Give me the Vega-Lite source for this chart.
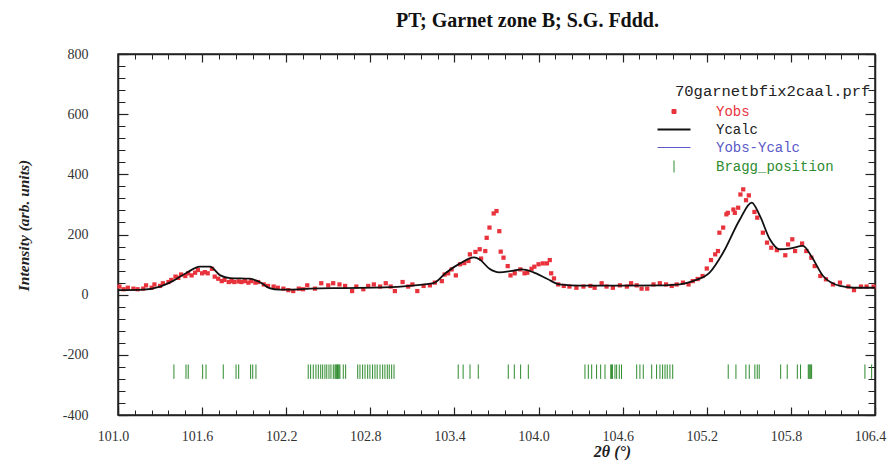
{
  "$schema": "https://vega.github.io/schema/vega-lite/v6.json",
  "width": 757,
  "height": 361,
  "autosize": {"type": "none"},
  "padding": {"left": 118, "top": 54, "right": 16, "bottom": 45},
  "background": "white",
  "title": {"text": "PT; Garnet zone B; S.G. Fddd.", "font": "Liberation Serif", "fontSize": 20, "fontWeight": "bold", "color": "#111", "anchor": "middle", "dx": 31, "offset": 16},
  "config": {"view": {"stroke": "#222", "strokeWidth": 1.5}},
  "datasets": {
    "obs": [
      {"x": 101.01, "y": 27}, {"x": 101.04, "y": 18}, {"x": 101.07, "y": 23}, {"x": 101.11, "y": 20}, {"x": 101.14, "y": 18},
      {"x": 101.18, "y": 20}, {"x": 101.2, "y": 31}, {"x": 101.24, "y": 23}, {"x": 101.26, "y": 34}, {"x": 101.3, "y": 29},
      {"x": 101.32, "y": 38}, {"x": 101.36, "y": 42}, {"x": 101.38, "y": 49}, {"x": 101.41, "y": 60}, {"x": 101.43, "y": 56},
      {"x": 101.45, "y": 67}, {"x": 101.48, "y": 62}, {"x": 101.5, "y": 71}, {"x": 101.525, "y": 64}, {"x": 101.55, "y": 73},
      {"x": 101.57, "y": 82}, {"x": 101.6, "y": 71}, {"x": 101.62, "y": 75}, {"x": 101.64, "y": 71}, {"x": 101.67, "y": 86},
      {"x": 101.69, "y": 60}, {"x": 101.715, "y": 53}, {"x": 101.74, "y": 45}, {"x": 101.76, "y": 49}, {"x": 101.79, "y": 42},
      {"x": 101.81, "y": 45}, {"x": 101.83, "y": 42}, {"x": 101.86, "y": 44}, {"x": 101.88, "y": 42}, {"x": 101.905, "y": 45},
      {"x": 101.93, "y": 40}, {"x": 101.95, "y": 45}, {"x": 101.98, "y": 40}, {"x": 102.0, "y": 42}, {"x": 102.04, "y": 34},
      {"x": 102.07, "y": 29}, {"x": 102.11, "y": 27}, {"x": 102.14, "y": 23}, {"x": 102.18, "y": 20}, {"x": 102.215, "y": 15},
      {"x": 102.25, "y": 12}, {"x": 102.29, "y": 20}, {"x": 102.32, "y": 18}, {"x": 102.35, "y": 31}, {"x": 102.405, "y": 20},
      {"x": 102.45, "y": 38}, {"x": 102.5, "y": 31}, {"x": 102.535, "y": 38}, {"x": 102.58, "y": 34}, {"x": 102.62, "y": 29},
      {"x": 102.67, "y": 12}, {"x": 102.7, "y": 27}, {"x": 102.75, "y": 18}, {"x": 102.785, "y": 29}, {"x": 102.825, "y": 34},
      {"x": 102.87, "y": 27}, {"x": 102.91, "y": 38}, {"x": 102.945, "y": 27}, {"x": 102.975, "y": 12}, {"x": 103.03, "y": 42},
      {"x": 103.07, "y": 27}, {"x": 103.1, "y": 34}, {"x": 103.135, "y": 12}, {"x": 103.18, "y": 29}, {"x": 103.225, "y": 31},
      {"x": 103.26, "y": 40}, {"x": 103.31, "y": 45}, {"x": 103.33, "y": 67}, {"x": 103.355, "y": 71}, {"x": 103.38, "y": 84},
      {"x": 103.41, "y": 64}, {"x": 103.44, "y": 101}, {"x": 103.47, "y": 105}, {"x": 103.5, "y": 112}, {"x": 103.51, "y": 134},
      {"x": 103.55, "y": 142}, {"x": 103.58, "y": 151}, {"x": 103.59, "y": 120}, {"x": 103.62, "y": 145}, {"x": 103.63, "y": 189},
      {"x": 103.65, "y": 223}, {"x": 103.68, "y": 270}, {"x": 103.7, "y": 278}, {"x": 103.72, "y": 211}, {"x": 103.73, "y": 143},
      {"x": 103.75, "y": 123}, {"x": 103.78, "y": 95}, {"x": 103.8, "y": 64}, {"x": 103.83, "y": 71}, {"x": 103.87, "y": 84},
      {"x": 103.9, "y": 71}, {"x": 103.92, "y": 73}, {"x": 103.95, "y": 86}, {"x": 103.97, "y": 93}, {"x": 104.0, "y": 101},
      {"x": 104.03, "y": 104}, {"x": 104.06, "y": 104}, {"x": 104.08, "y": 115}, {"x": 104.09, "y": 71}, {"x": 104.11, "y": 54},
      {"x": 104.14, "y": 34}, {"x": 104.18, "y": 29}, {"x": 104.22, "y": 27}, {"x": 104.27, "y": 23}, {"x": 104.32, "y": 27},
      {"x": 104.37, "y": 29}, {"x": 104.4, "y": 23}, {"x": 104.45, "y": 38}, {"x": 104.485, "y": 27}, {"x": 104.53, "y": 23},
      {"x": 104.58, "y": 31}, {"x": 104.63, "y": 27}, {"x": 104.66, "y": 38}, {"x": 104.7, "y": 31}, {"x": 104.735, "y": 20},
      {"x": 104.775, "y": 20}, {"x": 104.82, "y": 34}, {"x": 104.865, "y": 38}, {"x": 104.91, "y": 34}, {"x": 104.95, "y": 29},
      {"x": 104.985, "y": 34}, {"x": 105.03, "y": 40}, {"x": 105.07, "y": 34}, {"x": 105.1, "y": 45}, {"x": 105.135, "y": 52},
      {"x": 105.17, "y": 62}, {"x": 105.2, "y": 87}, {"x": 105.23, "y": 115}, {"x": 105.26, "y": 134}, {"x": 105.28, "y": 145},
      {"x": 105.29, "y": 206}, {"x": 105.317, "y": 223}, {"x": 105.34, "y": 267}, {"x": 105.35, "y": 272}, {"x": 105.39, "y": 283},
      {"x": 105.4, "y": 272}, {"x": 105.424, "y": 289}, {"x": 105.44, "y": 333}, {"x": 105.46, "y": 350}, {"x": 105.48, "y": 314},
      {"x": 105.5, "y": 330}, {"x": 105.54, "y": 275}, {"x": 105.56, "y": 256}, {"x": 105.6, "y": 206}, {"x": 105.63, "y": 173},
      {"x": 105.66, "y": 156}, {"x": 105.7, "y": 148}, {"x": 105.76, "y": 131}, {"x": 105.78, "y": 167}, {"x": 105.81, "y": 184},
      {"x": 105.83, "y": 145}, {"x": 105.88, "y": 170}, {"x": 105.91, "y": 145}, {"x": 105.946, "y": 123}, {"x": 105.97, "y": 95},
      {"x": 106.01, "y": 62}, {"x": 106.05, "y": 51}, {"x": 106.1, "y": 34}, {"x": 106.15, "y": 40}, {"x": 106.21, "y": 27},
      {"x": 106.25, "y": 15}, {"x": 106.3, "y": 27}, {"x": 106.34, "y": 27}, {"x": 106.39, "y": 27}
    ],
    "calc": [
      {"x": 101.0, "y": 15}, {"x": 101.18, "y": 17}, {"x": 101.3, "y": 27}, {"x": 101.39, "y": 45}, {"x": 101.49, "y": 73},
      {"x": 101.585, "y": 93}, {"x": 101.656, "y": 93}, {"x": 101.73, "y": 64}, {"x": 101.8, "y": 55}, {"x": 101.94, "y": 53},
      {"x": 102.01, "y": 42}, {"x": 102.08, "y": 22}, {"x": 102.15, "y": 17}, {"x": 102.23, "y": 17}, {"x": 102.37, "y": 20},
      {"x": 102.6, "y": 22}, {"x": 102.9, "y": 24}, {"x": 103.1, "y": 30}, {"x": 103.25, "y": 38}, {"x": 103.34, "y": 73},
      {"x": 103.44, "y": 104}, {"x": 103.54, "y": 124}, {"x": 103.58, "y": 117}, {"x": 103.65, "y": 86}, {"x": 103.72, "y": 74},
      {"x": 103.81, "y": 79}, {"x": 103.88, "y": 84}, {"x": 103.96, "y": 75}, {"x": 104.06, "y": 53}, {"x": 104.15, "y": 34},
      {"x": 104.3, "y": 30}, {"x": 104.6, "y": 30}, {"x": 104.9, "y": 31}, {"x": 105.008, "y": 34}, {"x": 105.1, "y": 45},
      {"x": 105.22, "y": 73}, {"x": 105.317, "y": 140}, {"x": 105.436, "y": 250}, {"x": 105.52, "y": 306}, {"x": 105.58, "y": 261},
      {"x": 105.65, "y": 184}, {"x": 105.72, "y": 151}, {"x": 105.79, "y": 153}, {"x": 105.886, "y": 162}, {"x": 105.946, "y": 128},
      {"x": 106.03, "y": 62}, {"x": 106.15, "y": 29}, {"x": 106.25, "y": 23}, {"x": 106.4, "y": 23}
    ],
    "bragg": [
      {"x": 101.399}, {"x": 101.485}, {"x": 101.501}, {"x": 101.604}, {"x": 101.628}, {"x": 101.751}, {"x": 101.842}, {"x": 101.861},
      {"x": 101.946}, {"x": 101.961}, {"x": 101.984},
      {"x": 102.357}, {"x": 102.374}, {"x": 102.393}, {"x": 102.412}, {"x": 102.429}, {"x": 102.446}, {"x": 102.46}, {"x": 102.476},
      {"x": 102.489}, {"x": 102.505}, {"x": 102.519}, {"x": 102.536}, {"x": 102.548}, {"x": 102.554}, {"x": 102.56}, {"x": 102.566},
      {"x": 102.571}, {"x": 102.577}, {"x": 102.583}, {"x": 102.607}, {"x": 102.624},
      {"x": 102.71}, {"x": 102.726}, {"x": 102.745}, {"x": 102.762}, {"x": 102.781}, {"x": 102.797}, {"x": 102.816}, {"x": 102.833},
      {"x": 102.849}, {"x": 102.869}, {"x": 102.888}, {"x": 102.904}, {"x": 102.921}, {"x": 102.935}, {"x": 102.952}, {"x": 102.969},
      {"x": 103.427}, {"x": 103.462}, {"x": 103.511}, {"x": 103.57},
      {"x": 103.784}, {"x": 103.827}, {"x": 103.872}, {"x": 103.927},
      {"x": 104.331}, {"x": 104.355}, {"x": 104.379}, {"x": 104.414}, {"x": 104.443}, {"x": 104.474}, {"x": 104.515}, {"x": 104.521},
      {"x": 104.527}, {"x": 104.545}, {"x": 104.557}, {"x": 104.576}, {"x": 104.592},
      {"x": 104.7}, {"x": 104.723}, {"x": 104.747}, {"x": 104.807}, {"x": 104.842}, {"x": 104.866}, {"x": 104.885}, {"x": 104.902},
      {"x": 104.918}, {"x": 104.937}, {"x": 104.957},
      {"x": 105.353}, {"x": 105.408}, {"x": 105.479}, {"x": 105.503}, {"x": 105.543}, {"x": 105.56}, {"x": 105.574},
      {"x": 105.727}, {"x": 105.774}, {"x": 105.846}, {"x": 105.869}, {"x": 105.924}, {"x": 105.93}, {"x": 105.936}, {"x": 105.942}, {"x": 105.948},
      {"x": 106.328}, {"x": 106.376}
    ]
  },
  "resolve": {"axis": {"x": "independent", "y": "independent"}},
  "layer": [
    {
      "data": {"name": "obs"},
      "mark": {"type": "point", "filled": true, "shape": "square", "size": 18, "opacity": 1},
      "encoding": {
        "x": {"field": "x", "type": "quantitative",
          "scale": {"domain": [101.0, 106.4], "nice": false, "zero": false},
          "axis": {"orient": "bottom", "values": [101.0, 101.6, 102.2, 102.8, 103.4, 104.0, 104.6, 105.2, 105.8, 106.4], "format": ".1f",
            "grid": false, "domainColor": "#222", "domainWidth": 1.5, "tickColor": "#222", "tickSize": -8, "tickWidth": 1.2,
            "labelFont": "Liberation Serif", "labelFontSize": 14, "labelColor": "#333", "labelPadding": 22, "labelOffset": -5, "labelFlush": false,
            "title": "2θ (°)", "titleFont": "Liberation Serif", "titleFontSize": 16, "titleFontStyle": "italic", "titleFontWeight": "bold", "titleColor": "#222",
            "titleX": 494, "titleY": 28}},
        "y": {"field": "y", "type": "quantitative",
          "scale": {"domain": [-400, 800], "nice": false, "zero": false},
          "axis": {"orient": "left", "values": [-400, -200, 0, 200, 400, 600, 800], "labelExpr": "replace(datum.label, '−', '-')",
            "grid": false, "domainColor": "#222", "domainWidth": 1.5, "tickColor": "#222", "tickSize": -10, "tickWidth": 1.2,
            "labelFont": "Liberation Serif", "labelFontSize": 14, "labelColor": "#333", "labelPadding": 40,
            "title": "Intensity (arb. units)", "titleFont": "Liberation Serif", "titleFontSize": 15.5, "titleFontStyle": "italic", "titleFontWeight": "bold", "titleColor": "#222",
            "titlePadding": 31, "titleY": 171}},
        "color": {"datum": "Yobs", "type": "nominal",
          "scale": {"domain": ["Yobs", "Ycalc", "Yobs-Ycalc", "Bragg_position"], "range": ["#e8333c", "#111111", "#5a5ac8", "#2e8b2e"]},
          "legend": {"orient": "none", "legendX": 549, "legendY": 30, "title": "70garnetbfix2caal.prf", "titleLimit": 400,
            "titleFont": "Liberation Mono", "titleFontSize": 15.5, "titleFontWeight": "normal", "titleColor": "#222", "titlePadding": 5,
            "labelFont": "Liberation Mono", "labelFontSize": 14, "labelOffset": 35, "rowPadding": 4, "symbolSize": 100,
            "encoding": {
              "title": {"dx": {"value": 8}},
              "symbols": {
                "shape": {"value": {"expr": "datum.value === 'Yobs' ? 'square' : (datum.value === 'Bragg_position' ? 'M0,-1L0,1' : 'stroke')"}},
                "size": {"value": {"expr": "datum.value === 'Yobs' ? 16 : (datum.value === 'Bragg_position' ? 144 : 1089)"}},
                "fill": {"value": {"expr": "datum.value === 'Yobs' ? '#e8333c' : 'transparent'"}},
                "stroke": {"value": {"expr": "datum.value === 'Yobs' ? 'transparent' : (datum.value === 'Ycalc' ? '#111111' : (datum.value === 'Yobs-Ycalc' ? '#5a5ac8' : '#2e8b2e'))"}},
                "strokeWidth": {"value": {"expr": "datum.value === 'Ycalc' ? 2 : 1"}},
                "opacity": {"value": 1}
              },
              "labels": {
                "fill": {"value": {"expr": "datum.value === 'Yobs' ? '#e8333c' : (datum.value === 'Ycalc' ? '#222222' : (datum.value === 'Yobs-Ycalc' ? '#5a5ac8' : '#2e8b2e'))"}}
              }
            }}}
      }
    },
    {
      "data": {"name": "calc"},
      "mark": {"type": "line", "interpolate": "monotone", "strokeWidth": 1.8},
      "encoding": {
        "x": {"field": "x", "type": "quantitative", "axis": null},
        "y": {"field": "y", "type": "quantitative", "axis": null},
        "color": {"datum": "Ycalc", "type": "nominal", "legend": null}
      }
    },
    {
      "data": {"name": "bragg"},
      "mark": {"type": "rule", "strokeWidth": 1},
      "encoding": {
        "x": {"field": "x", "type": "quantitative", "axis": null},
        "y": {"datum": -232, "axis": null},
        "y2": {"datum": -280},
        "color": {"datum": "Bragg_position", "type": "nominal", "legend": null}
      }
    },
    {
      "data": {"name": "calc"},
      "mark": {"type": "point", "opacity": 0},
      "encoding": {
        "x": {"field": "x", "type": "quantitative",
          "axis": {"orient": "bottom", "values": [101.12, 101.24, 101.36, 101.48, 101.72, 101.84, 101.96, 102.08, 102.32, 102.44, 102.56, 102.68, 102.92, 103.04, 103.16, 103.28, 103.52, 103.64, 103.76, 103.88, 104.12, 104.24, 104.36, 104.48, 104.72, 104.84, 104.96, 105.08, 105.32, 105.44, 105.56, 105.68, 105.92, 106.04, 106.16, 106.28],
            "labels": false, "domain": false, "grid": false, "tickColor": "#222", "tickSize": -5, "tickWidth": 1, "title": null}},
        "y": {"field": "y", "type": "quantitative",
          "axis": {"orient": "left", "values": [-360, -320, -280, -240, -160, -120, -80, -40, 40, 80, 120, 160, 240, 280, 320, 360, 440, 480, 520, 560, 640, 680, 720, 760],
            "labels": false, "domain": false, "grid": false, "tickColor": "#222", "tickSize": -7, "tickWidth": 1, "title": null}}
      }
    },
    {
      "data": {"name": "calc"},
      "mark": {"type": "point", "opacity": 0},
      "encoding": {
        "x": {"field": "x", "type": "quantitative",
          "axis": {"orient": "top", "values": [101.0, 101.6, 102.2, 102.8, 103.4, 104.0, 104.6, 105.2, 105.8, 106.4],
            "labels": false, "domainColor": "#222", "domainWidth": 1.5, "grid": false, "tickColor": "#222", "tickSize": -8, "tickWidth": 1.2, "title": null}},
        "y": {"field": "y", "type": "quantitative",
          "axis": {"orient": "right", "values": [-400, -200, 0, 200, 400, 600, 800],
            "labels": false, "domainColor": "#222", "domainWidth": 1.5, "grid": false, "tickColor": "#222", "tickSize": -10, "tickWidth": 1.2, "title": null}}
      }
    },
    {
      "data": {"name": "calc"},
      "mark": {"type": "point", "opacity": 0},
      "encoding": {
        "x": {"field": "x", "type": "quantitative",
          "axis": {"orient": "top", "values": [101.12, 101.24, 101.36, 101.48, 101.72, 101.84, 101.96, 102.08, 102.32, 102.44, 102.56, 102.68, 102.92, 103.04, 103.16, 103.28, 103.52, 103.64, 103.76, 103.88, 104.12, 104.24, 104.36, 104.48, 104.72, 104.84, 104.96, 105.08, 105.32, 105.44, 105.56, 105.68, 105.92, 106.04, 106.16, 106.28],
            "labels": false, "domain": false, "grid": false, "tickColor": "#222", "tickSize": -5, "tickWidth": 1, "title": null}},
        "y": {"field": "y", "type": "quantitative",
          "axis": {"orient": "right", "values": [-360, -320, -280, -240, -160, -120, -80, -40, 40, 80, 120, 160, 240, 280, 320, 360, 440, 480, 520, 560, 640, 680, 720, 760],
            "labels": false, "domain": false, "grid": false, "tickColor": "#222", "tickSize": -7, "tickWidth": 1, "title": null}}
      }
    }
  ]
}
